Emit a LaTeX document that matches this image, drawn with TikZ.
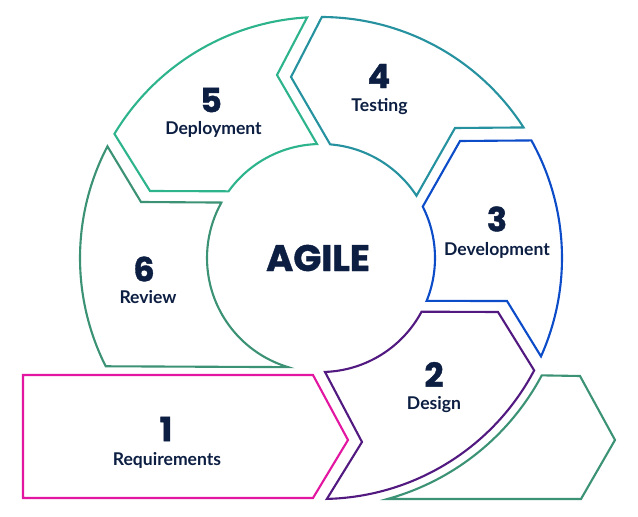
\documentclass[tikz,border=0pt]{standalone}
\usepackage{fontspec}
\setmainfont{Lato}
\newfontfamily\numfont{Poppins}[BoldFeatures={FakeBold=1.2}]
\usetikzlibrary{positioning}

\definecolor{navy}{RGB}{12,30,66}
\definecolor{reqpink}{RGB}{226,22,160}
\definecolor{despurple}{RGB}{82,26,128}
\definecolor{devblue}{RGB}{12,76,200}
\definecolor{testteal}{RGB}{38,146,160}
\definecolor{depgreen}{RGB}{46,180,140}
\definecolor{revgreen}{RGB}{60,146,116}

\begin{document}
\begin{tikzpicture}

	\tikzstyle{segment} = [line width=1.2pt, line join=miter, fill=white]
	\tikzstyle{stepnum} = [font=\numfont\bfseries\fontsize{19}{19}\selectfont, text=navy, inner sep=0pt]
	\tikzstyle{stepname} = [font=\bfseries\fontsize{10}{12}\selectfont, text=navy, inner sep=0pt, text height=7pt, text depth=2pt, anchor=base]

	\def\R{4.82}
	\def\r{2.28}

	\useasboundingbox (-6.42,-5.18) rectangle (6.34,5.16);
	\coordinate (centre) at (0,0);

	% 1 Requirements
	\draw[segment, draw=reqpink] (-5.96,-2.34) -- (-0.16,-2.34) -- (0.54,-3.64) -- (-0.16,-4.80) -- (-5.96,-4.80) -- cycle;

	% 2 Design
	\draw[segment, draw=despurple] (3.54,-1.08) -- (-27.8:\R) arc[start angle=-27.8, end angle=-88.6, radius=\R]
		-- (0.82,-3.68) -- (-88:\r) arc[start angle=-88, end angle=-28.1, radius=\r] -- cycle;

	% 3 Development
	\draw[segment, draw=devblue] (29.2:\R) arc[start angle=29.2, end angle=-24.1, radius=\R]
		-- (3.72,-0.86) -- (-22.1:\r) arc[start angle=-22.1, end angle=26.8, radius=\r] -- (2.78,2.34) -- cycle;

	% 4 Testing
	\draw[segment, draw=testteal] (89.8:\R) arc[start angle=89.8, end angle=32.8, radius=\R]
		-- (2.68,2.60) -- (33.1:\r) arc[start angle=33.1, end angle=85.4, radius=\r] -- (-0.60,3.62) -- cycle;

	% 5 Deployment
	\draw[segment, draw=depgreen] (149:\R) arc[start angle=149, end angle=93.3, radius=\R]
		-- (-0.88,3.66) -- (92:\r) arc[start angle=92, end angle=144.2, radius=\r] -- (-3.42,1.34) -- cycle;

	% 6 Review
	\draw[segment, draw=revgreen] (152.4:\R) arc[start angle=152.4, end angle=206.7, radius=\R]
		-- (253.2:\r) arc[start angle=253.2, end angle=150.9, radius=\r] -- (-3.60,1.12) -- cycle;

	% outgoing arrow
	\draw[segment, draw=revgreen] (-28:5) -- (5.18,-2.36) -- (5.88,-3.64) -- (5.20,-4.82) -- (-74.6:5)
		arc[start angle=-74.6, end angle=-28, radius=5] -- cycle;

	\node[font=\numfont\bfseries\fontsize{21}{21}\selectfont, text=navy, inner sep=0pt] (agile) at (-0.06,0) {AGILE};

	\node[stepnum] (n1) at (-3.10,-3.42) {1};
	\node[stepname] (t1) at (-3.08,-4.14) {Requirements};
	\node[stepnum] (n2) at (2.26,-2.33) {2};
	\node[stepname] (t2) at (2.26,-3.03) {Design};
	\node[stepnum] (n3) at (3.52,0.78) {3};
	\node[stepname] (t3) at (3.52,0.04) {Development};
	\node[stepnum] (n4) at (1.16,3.64) {4};
	\node[stepname] (t4) at (1.17,2.92) {Testing};
	\node[stepnum] (n5) at (-2.20,3.16) {5};
	\node[stepname] (t5) at (-2.15,2.46) {Deployment};
	\node[stepnum] (n6) at (-3.54,-0.22) {6};
	\node[stepname] (t6) at (-3.46,-0.92) {Review};

\end{tikzpicture}
\end{document}
